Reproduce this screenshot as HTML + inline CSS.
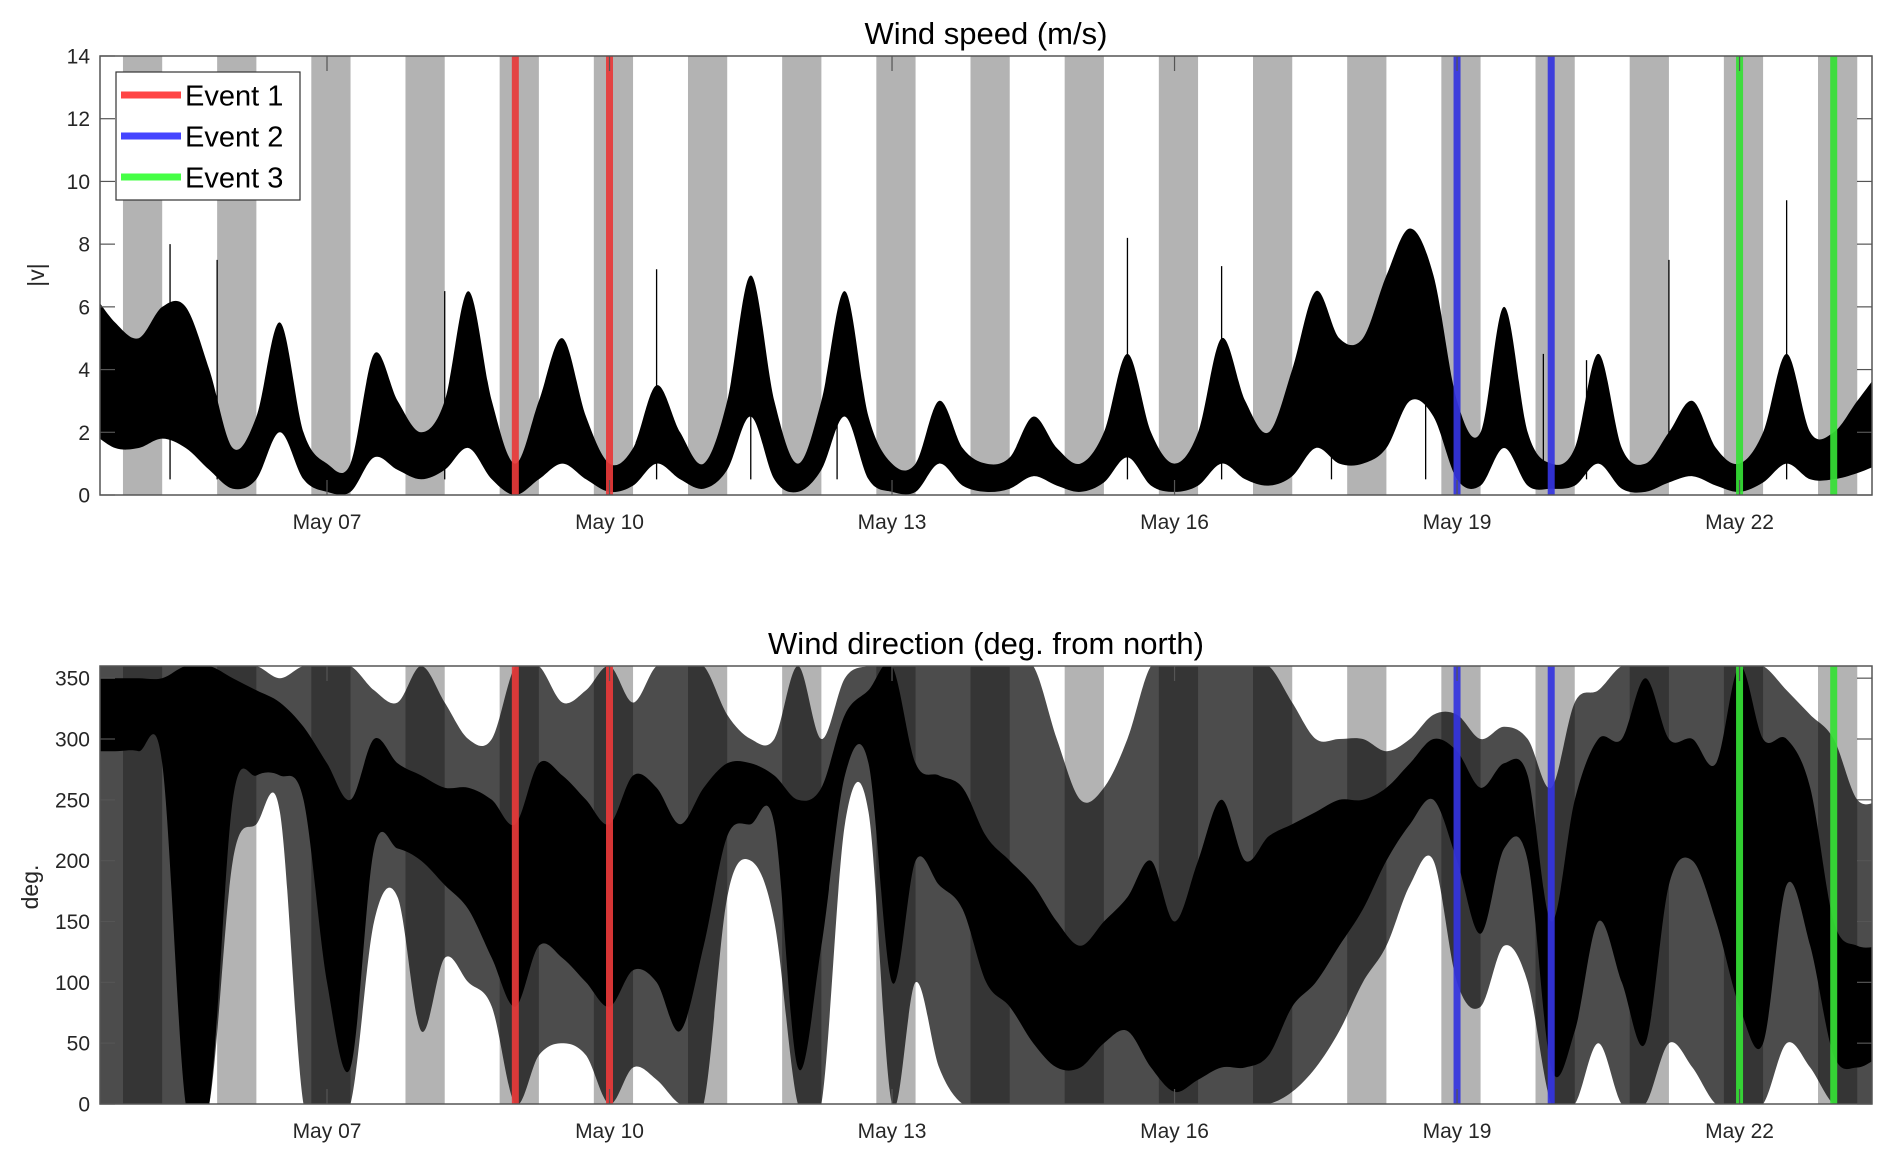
<!DOCTYPE html>
<html><head><meta charset="utf-8"><style>
html,body{margin:0;padding:0;background:#fff;}
svg{display:block;font-family:"Liberation Sans",Arial,sans-serif;}
</style></head><body>
<svg id="fig" width="1892" height="1162" viewBox="0 0 1892 1162" xmlns="http://www.w3.org/2000/svg">
<defs>
<clipPath id="c1"><rect x="100" y="56" width="1772" height="439"/></clipPath>
<clipPath id="c2"><rect x="100" y="666" width="1772" height="438"/></clipPath>
</defs>
</svg>
<script>
// ---- data (6-hour bins starting May 4 12:00) ----
const speedHi=[6.5,5.5, 5,6,6,4, 1.5,2.5,5.5,2, 1,1,4.5,3, 2,3,6.5,3, 1,3,5,2.5, 1,1.5,3.5,2, 1,3,7,3, 1,3,6.5,2.5, 1,1,3,1.5, 1,1.2,2.5,1.5, 1,2,4.5,2, 1,2,5,3, 2,4,6.5,5, 5,7,8.5,7, 3,2,6,2, 1,1.5,4.5,1.5, 1,2,3,1.5, 1,2,4.5,2, 2,3,4];
const speedLo=[2,1.5, 1.5,1.8,1.5,0.8, 0.2,0.5,2,0.5, 0.1,0.1,1.2,0.8, 0.5,0.8,1.5,0.5, 0,0.5,1,0.5, 0.1,0.3,1,0.5, 0.2,0.8,2.5,0.5, 0.1,0.8,2.5,0.5, 0.1,0.1,1,0.3, 0.1,0.2,0.6,0.3, 0.1,0.4,1.2,0.3, 0.1,0.3,1,0.5, 0.3,0.6,1.5,1, 1,1.5,3,2.5, 0.5,0.3,1.5,0.3, 0.2,0.3,1,0.2, 0.1,0.4,0.6,0.3, 0.1,0.4,1,0.5, 0.5,0.7,1];
const spikeHours=[-58,-40,-28,30,84,108,130,204,228,256,280,310,321,342,372,396,444,456,492,516,540];
const spikeVals=[8.5,8,7.5,6.5,7.2,6.7,4.5,8.2,7.3,3.5,3,4.5,4.3,7.5,9.4,12.5,10.2,7.2,5.3,5.4,5.5];
const dirCoreLo=[290,290, 290,280,0,0, 250,270,270,250, 100,30,210,210, 200,180,160,120, 80,130,120,100, 80,110,100,60, 130,220,230,230, 30,130,270,280, 100,200,180,160, 100,80,50,30, 30,50,60,30, 10,20,30,30, 40,80,100,130, 160,200,230,250, 200,140,210,200, 30,60,150,100, 50,180,200,150, 80,50,180,130, 40,30,40];
const dirCoreHi=[350,350, 350,350,360,360, 350,340,330,310, 280,250,300,280, 270,260,260,250, 230,280,270,250, 230,270,260,230, 260,280,280,270, 250,260,320,340, 360,280,270,260, 220,200,180,150, 130,150,170,200, 150,200,250,200, 220,230,240,250, 250,260,280,300, 290,260,280,270, 150,250,300,300, 350,300,300,280, 360,300,300,260, 150,130,130];
const dirSpreadLo=[0,0, 0,0,0,0, 200,230,240,0, 0,0,150,170, 60,120,100,80, 0,40,50,40, 0,30,20,0, 0,170,200,150, 0,0,230,240, 0,100,30,0, 0,0,0,0, 0,0,0,0, 0,0,0,0, 0,10,30,60, 100,130,180,200, 100,80,130,100, 0,0,50,0, 0,50,30,0, 0,0,50,30, 0,0,0];
const dirSpreadHi=[360,360, 360,360,360,360, 360,360,350,360, 360,360,340,330, 360,330,300,300, 360,360,330,340, 360,330,360,360, 360,320,300,300, 360,300,350,360, 360,360,360,360, 360,360,360,300, 250,260,300,360, 360,360,360,360, 360,330,300,300, 300,290,300,320, 320,300,310,300, 260,330,340,360, 360,360,360,360, 360,360,340,320, 300,250,250];
const eventHours=[48,72,288,312,360,384];
const eventColors=["#e83a3a","#e83a3a","#3434e0","#3434e0","#35e035","#35e035"];
const speedTicks=[0,2,4,6,8,10,12,14];
const dirTicks=[0,50,100,150,200,250,300,350];
const dateTickDays=[0,3,6,9,12,15];
const dateTickLabels=["May 07","May 10","May 13","May 16","May 19","May 22"];
const nightStartHours=[-52,-28,-4,20,44,68,92,116,140,164,188,212,236,260,284,308,332,356,380];
const nightLength=10;

// ---- layout ----
const NS="http://www.w3.org/2000/svg";
const svg=document.getElementById('fig');
const X0=100,X1=1872,PXDAY=94.17,XMAY7=327;
const xs=h=>XMAY7+h/24*PXDAY;
const binHour=i=>-60+6*i;
function el(tag,attrs,parent){const e=document.createElementNS(NS,tag);for(const k in attrs)e.setAttribute(k,attrs[k]);(parent||svg).appendChild(e);return e;}
// Catmull-Rom smooth path through points (array of [x,y]), returns segment commands (no initial M)
function smooth(P){
  let d='';
  for(let i=0;i<P.length-1;i++){
    const p0=P[Math.max(0,i-1)],p1=P[i],p2=P[i+1],p3=P[Math.min(P.length-1,i+2)];
    const c1=[p1[0]+(p2[0]-p0[0])/6,p1[1]+(p2[1]-p0[1])/6];
    const c2=[p2[0]-(p3[0]-p1[0])/6,p2[1]-(p3[1]-p1[1])/6];
    d+=' C'+c1[0].toFixed(1)+','+c1[1].toFixed(1)+' '+c2[0].toFixed(1)+','+c2[1].toFixed(1)+' '+p2[0].toFixed(1)+','+p2[1].toFixed(1);
  }
  return d;
}

function panel(p){
  const ys=v=>p.yb-(v/p.ymax)*(p.yb-p.yt);
  const g=el('g',{'clip-path':p.clip});
  
  
  nightStartHours.forEach((h,i)=>{
    const r=el('rect',{x:xs(h),y:p.yt,width:xs(h+nightLength)-xs(h),height:p.yb-p.yt,fill:'#b3b3b3'},g);
    
    
  });
  p.layers.forEach(L=>{
    const top=L.hi.map((v,i)=>[xs(binHour(i)),ys(v)]);
    const bot=L.lo.map((v,i)=>[xs(binHour(i)),ys(v)]).reverse();
    let d='M'+top[0][0].toFixed(1)+','+top[0][1].toFixed(1)+smooth(top)+' L'+bot[0][0].toFixed(1)+','+bot[0][1].toFixed(1)+smooth(bot)+' Z';
    const pg=el('path',{d:d,fill:'#000','fill-opacity':L.op},g);
    
    
  });
  if(p.spikes){
    p.spikes.h.forEach((h,i)=>{
      const ln=el('line',{x1:xs(h),x2:xs(h),y1:ys(0.5),y2:ys(p.spikes.v[i]),stroke:'#000','stroke-width':1.3},g);
      
      
    });
  }
  eventHours.forEach((h,i)=>{
    const ln=el('line',{x1:xs(h),x2:xs(h),y1:p.yt,y2:p.yb,stroke:eventColors[i],'stroke-width':7,'stroke-opacity':0.92},g);
    
    
  });
  const box=el('rect',{x:X0,y:p.yt,width:X1-X0,height:p.yb-p.yt,fill:'none',stroke:'#555','stroke-width':1.5});
  
  
  p.ticks.forEach(v=>{
    const y=ys(v);
    el('line',{x1:X0,x2:X0+15,y1:y,y2:y,stroke:'#555','stroke-width':1.2});
    el('line',{x1:X1-15,x2:X1,y1:y,y2:y,stroke:'#555','stroke-width':1.2});
    const t=el('text',{x:90,y:y+7.5,'text-anchor':'end','font-size':21,fill:'#262626'});
    t.textContent=v;
    
    
  });
  dateTickDays.forEach((d,i)=>{
    const x=xs(d*24);
    el('line',{x1:x,x2:x,y1:p.yb,y2:p.yb-15,stroke:'#555','stroke-width':1.2});
    el('line',{x1:x,x2:x,y1:p.yt,y2:p.yt+15,stroke:'#555','stroke-width':1.2});
    const t=el('text',{x:x,y:p.yb+34,'text-anchor':'middle','font-size':21,fill:'#262626'});
    t.textContent=dateTickLabels[i];
    
    
  });
  const tt=el('text',{x:986,y:p.yt-12,'text-anchor':'middle','font-size':31,fill:'#000'});
  tt.textContent=p.title;
  
  
  const yl=el('text',{x:0,y:0,'text-anchor':'middle','font-size':23,fill:'#262626',transform:'translate('+p.ylx+','+p.yly+') rotate(-90)'});
  yl.textContent=p.ylabel;
  
  
}

panel({name:'wind-speed',clip:'url(#c1)',yt:56,yb:495,ymax:14,ticks:speedTicks,title:'Wind speed (m/s)',ylabel:'|v|',ylx:44,yly:275,
  layers:[{name:'wind-speed-series',hi:speedHi,lo:speedLo,op:1}],spikes:{h:spikeHours,v:spikeVals}});
panel({name:'wind-direction',clip:'url(#c2)',yt:666,yb:1104,ymax:360,ticks:dirTicks,title:'Wind direction (deg. from north)',ylabel:'deg.',ylx:38,yly:887,
  layers:[{name:'wind-direction-spread',hi:dirSpreadHi,lo:dirSpreadLo,op:0.7},{name:'wind-direction-series',hi:dirCoreHi,lo:dirCoreLo,op:1}]});

// legend
const lg=el('g',{});


el('rect',{x:116,y:72,width:184,height:128,fill:'#fff',stroke:'#333','stroke-width':1.2},lg);
const legNames=['Event 1','Event 2','Event 3'];
const legCols=['#ff4545','#4545ff','#45ff45'];
legNames.forEach((n,i)=>{
  const y=95+i*41;
  const ln=el('line',{x1:121,x2:181,y1:y,y2:y,stroke:legCols[i],'stroke-width':7},lg);
  
  
  const t=el('text',{x:185,y:y+10.5,'font-size':29,fill:'#000'},lg);
  t.textContent=n;
  
  
});
</script>
</body></html>
